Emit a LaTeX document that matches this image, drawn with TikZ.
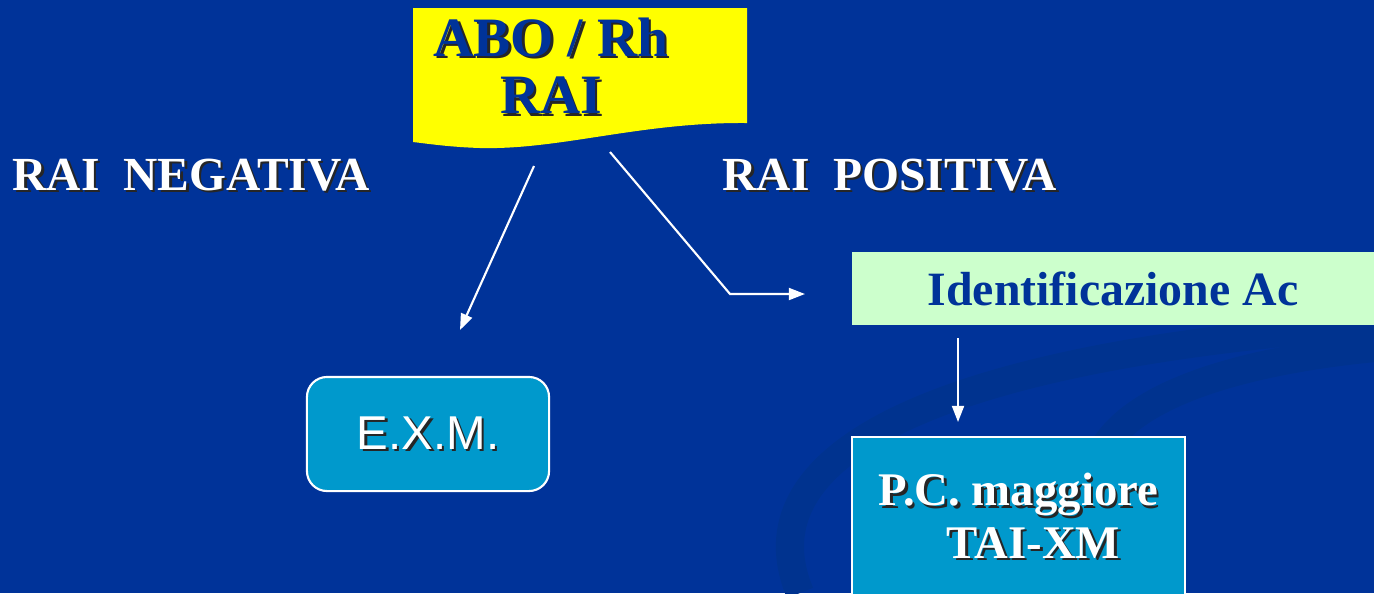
\documentclass[tikz,border=0pt]{standalone}
\usepackage{fontspec}
\setmainfont{Liberation Serif}
\newfontfamily\arialfont{Liberation Sans}
\usetikzlibrary{arrows.meta}

\definecolor{slidebg}{HTML}{003399}
\definecolor{swirlbg}{HTML}{00338F}
\definecolor{abofill}{HTML}{FFFF00}
\definecolor{abotext}{HTML}{003399}
\definecolor{idfill}{HTML}{CCFFCC}
\definecolor{boxfill}{HTML}{0099CC}

% text with a small drop shadow
\newcommand\shad[1]{\rlap{\kern0.7pt\raisebox{-0.7pt}{\color{black!85}#1}}#1}

\tikzset{
  link/.style={draw=white,line width=0.6pt,-{Triangle[length=4.6pt,width=3.4pt]}},
  swirl/.style={draw=swirlbg,line width=8pt},
  headtext/.style={text=white,font=\fontsize{13.5}{15}\selectfont\bfseries,inner sep=0pt},
  cyanbox/.style={fill=boxfill,draw=white,line width=0.6pt,text=white}
}

\begin{document}
\begin{tikzpicture}[x=0.01cm,y=-0.01cm]
  \useasboundingbox (0,0) rectangle (1374,593);
  \fill[slidebg] (0,0) rectangle (1374,593);
  % background swirl
  \draw[swirl] (800,593) .. controls (740,450) and (950,355) .. (1374,325);
  \draw[swirl] (1110,540) .. controls (1040,420) and (1200,365) .. (1374,348);

  % yellow document shape
  \fill[abofill] (413,8) -- (747,8) -- (747,123)
    .. controls (640,122) and (560,150) .. (480,148)
    .. controls (450,147) and (430,144) .. (413,142) -- cycle;
  \node[inner sep=0pt,align=center,text=abotext,
        font=\fontsize{15.8}{16.3}\selectfont\bfseries] (abo) at (551,67)
    {\shad{ABO / Rh}\\\shad{RAI}};

  \node[headtext,anchor=base west] (neg) at (12,190) {\shad{RAI\ \ NEGATIVA}};
  \node[headtext,anchor=base west] (pos) at (722,190) {\shad{RAI\ \ POSITIVA}};

  \node[fill=idfill,minimum width=5.22cm,minimum height=0.73cm,inner sep=0pt,
        text=abotext,font=\fontsize{13.6}{16}\selectfont\bfseries] (ident) at (1113,288.5)
    {Identificazione Ac};

  \node[cyanbox,rounded corners=0.2cm,minimum width=2.42cm,minimum height=1.14cm,
        font=\arialfont\fontsize{13.5}{16}\selectfont] (exm) at (428,434) {\shad{E.X.M.}};

  \node[cyanbox,minimum width=3.33cm,minimum height=1.6cm,inner sep=0pt,align=left,
        font=\fontsize{13.3}{15}\selectfont\bfseries] (pcm) at (1018.5,517)
    {\shad{P.C. maggiore}\\\hspace*{0.68cm}\shad{TAI-XM}};

  % arrows
  \coordinate (n1) at (534,166);
  \coordinate (n2) at (460,330);
  \coordinate (p1) at (610,152);
  \coordinate (p2) at (730,294);
  \coordinate (p3) at (805,294);
  \coordinate (d1) at (958,338);
  \coordinate (d2) at (958,422);
  \draw[link] (n1) -- (n2);
  \draw[link] (p1) -- (p2) -- (p3);
  \draw[link] (d1) -- (d2);
\end{tikzpicture}
\end{document}
